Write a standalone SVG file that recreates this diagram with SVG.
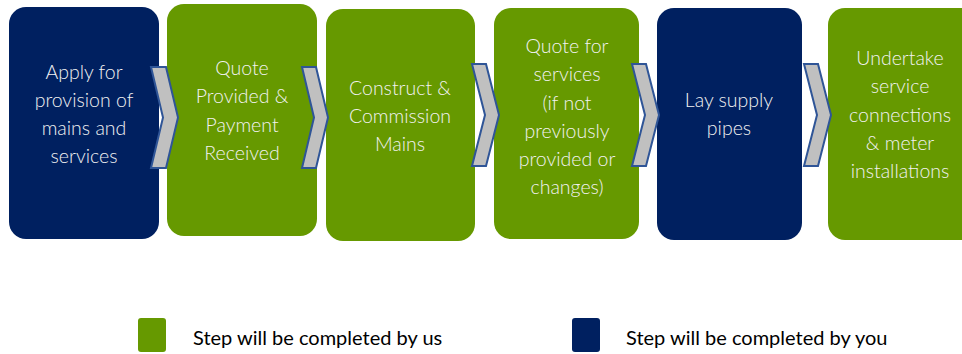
<svg xmlns="http://www.w3.org/2000/svg" width="962" height="354" viewBox="0 0 962 354">
<style>
.navy{fill:#002060}
.green{fill:#669900}
.t{font-family:Lato,"Open Sans","Liberation Sans",sans-serif;font-size:19.5px;font-weight:300;fill:#f2f2f2;text-anchor:middle}
.lg{font-family:Lato,"Open Sans","Liberation Sans",sans-serif;font-size:20px;fill:#000}
.chev{fill:#c0c0c0;stroke:#2f5597;stroke-width:2;stroke-linejoin:miter}
</style>
<rect width="962" height="354" fill="#fff"/>
<g id="step1">
<rect class="navy" x="9" y="7" width="150" height="232" rx="17"/>
<text class="t" x="84"><tspan x="84" y="79">Apply for</tspan><tspan x="84" y="107">provision of</tspan><tspan x="84" y="135">mains and</tspan><tspan x="84" y="163">services</tspan></text>
</g>
<g id="step2">
<rect class="green" x="167" y="4" width="150" height="232" rx="17"/>
<text class="t" x="242"><tspan x="242" y="75">Quote</tspan><tspan x="242" y="103">Provided &amp;</tspan><tspan x="242" y="132">Payment</tspan><tspan x="242" y="160">Received</tspan></text>
</g>
<g id="step3">
<rect class="green" x="326" y="9" width="149" height="232" rx="17"/>
<text class="t" x="400"><tspan x="400" y="95">Construct &amp;</tspan><tspan x="400" y="123">Commission</tspan><tspan x="400" y="151">Mains</tspan></text>
</g>
<g id="step4">
<rect class="green" x="494" y="8" width="145" height="231" rx="17"/>
<text class="t" x="567"><tspan x="567" y="53">Quote for</tspan><tspan x="567" y="81">services</tspan><tspan x="567" y="110">(if not</tspan><tspan x="567" y="138">previously</tspan><tspan x="567" y="166">provided or</tspan><tspan x="567" y="194">changes)</tspan></text>
</g>
<g id="step5">
<rect class="navy" x="657" y="8" width="145" height="232" rx="17"/>
<text class="t" x="729"><tspan x="729" y="107">Lay supply</tspan><tspan x="729" y="135">pipes</tspan></text>
</g>
<g id="step6">
<rect class="green" x="828" y="8" width="150" height="232" rx="17"/>
<text class="t" x="900"><tspan x="900" y="65">Undertake</tspan><tspan x="900" y="93">service</tspan><tspan x="900" y="122">connections</tspan><tspan x="900" y="150">&amp; meter</tspan><tspan x="900" y="178">installations</tspan></text>
</g>
<g id="connectors">
<polygon class="chev" points="151,67 166,67 178,117.5 166,168 151,168 163,117.5"/>
<polygon class="chev" points="302,67 316,67 328,117.5 316,168 302,168 314,117.5"/>
<polygon class="chev" points="472,64 486,64 499,115 486,166 472,166 485,115"/>
<polygon class="chev" points="632,64 646,64 659,115 646,166 632,166 645,115"/>
<polygon class="chev" points="804,64 818,64 831,115 818,166 804,166 817,115"/>
</g>
<g id="legend-us">
<rect class="green" x="138" y="318" width="28" height="34" rx="3"/>
<text class="lg" x="193" y="345">Step will be completed by us</text>
</g>
<g id="legend-you">
<rect class="navy" x="572" y="318" width="28" height="34" rx="3"/>
<text class="lg" x="626" y="345">Step will be completed by you</text>
</g>
</svg>
